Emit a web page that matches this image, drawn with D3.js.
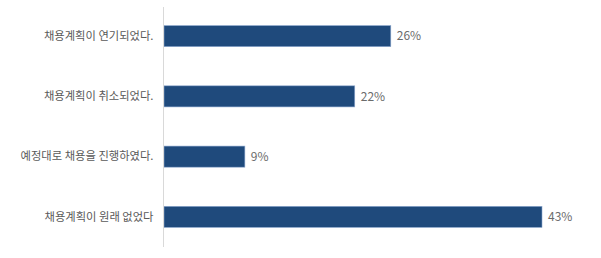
<!DOCTYPE html>
<html>
<head>
<meta charset="utf-8">
<script src="https://cdn.jsdelivr.net/npm/d3@7"></script>
<style>
  body { margin: 0; background: #fff; }
  text { font-family: "Noto Sans CJK KR", "Noto Sans", sans-serif; }
</style>
</head>
<body>
<div id="chart"></div>
<script>
// chart data
const categories = ['채용계획이 연기되었다.', '채용계획이 취소되었다.', '예정대로 채용을 진행하였다.', '채용계획이 원래 없었다'];
const values = [25.8, 21.7, 9.2, 43];
const valueLabels = ['26%', '22%', '9%', '43%'];

const width = 601, height = 258;
const margin = { top: 6, right: 59, bottom: 11, left: 164 };

const svg = d3.select('#chart').append('svg')
  .attr('width', width)
  .attr('height', height);

// scales
const xScale = d3.scaleLinear().domain([0, 43]).range([margin.left, width - margin.right]);
const yScale = d3.scaleBand().domain(categories)
  .range([margin.top, height - margin.bottom])
  .paddingInner(0.65)
  .paddingOuter(0.325);

// bars
svg.append('g').selectAll('rect')
  .data(values)
  .enter()
  .append('rect')
  .attr('x', xScale(0))
  .attr('y', (d, i) => yScale(categories[i]))
  .attr('width', (d) => xScale(d) - xScale(0))
  .attr('height', yScale.bandwidth())
  .attr('fill', '#1f4a7c')
  .attr('stroke', '#8ea9cf')
  .attr('stroke-width', 0.6);

// value labels
svg.append('g').selectAll('text')
  .data(values)
  .enter()
  .append('text')
  .attr('x', (d) => xScale(d) + 6)
  .attr('y', (d, i) => yScale(categories[i]) + yScale.bandwidth() / 2)
  .attr('dy', '0.36em')
  .attr('font-size', 12)
  .attr('fill', '#6b6b6b')
  .text((d, i) => valueLabels[i]);

// y axis
const yAxis = svg.append('g')
  .attr('class', 'axis axis-y')
  .attr('transform', `translate(${xScale(0) - 0.5}, 0)`)
  .call(d3.axisLeft(yScale).tickSize(0).tickPadding(10));

yAxis.select('.domain')
  .attr('d', `M0,${margin.top + 1}V${height - margin.bottom}`)
  .attr('stroke', '#d9d9d9');

yAxis.selectAll('.tick text')
  .attr('font-size', 11.3)
  .attr('fill', '#595959')
  .style('font-family', '"Noto Sans CJK KR", sans-serif');
</script>
</body>
</html>
